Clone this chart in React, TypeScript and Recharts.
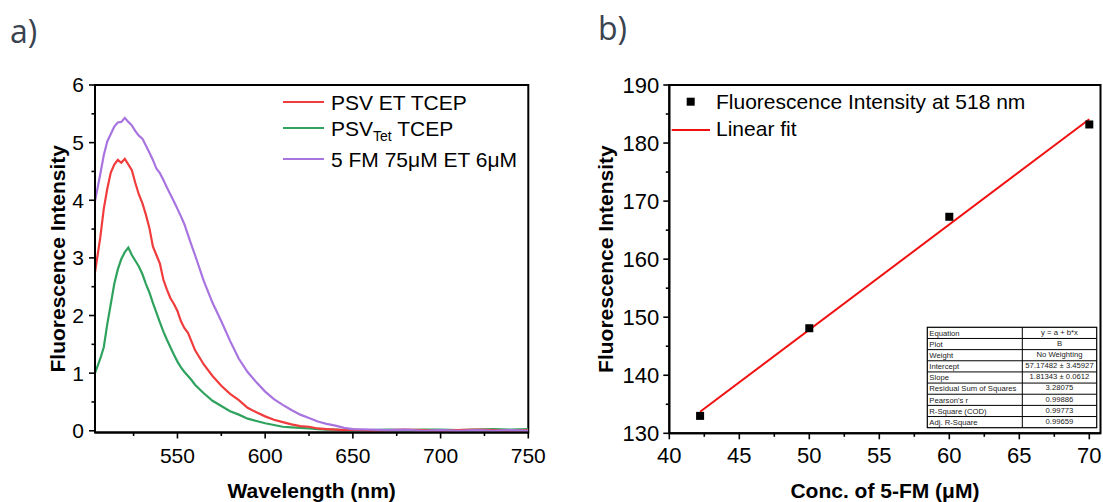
import React from 'react';
import { LineChart, Line, XAxis, YAxis, ReferenceArea, ScatterChart, Scatter } from 'recharts';

// ---------- Panel a) data ----------
const wavelengths = [
  503, 506, 508, 510, 512, 514, 516, 518, 520, 522, 524, 526, 528, 530, 532, 534, 536, 538, 540, 542, 544, 546, 548, 550, 552, 554, 556, 558, 560,
  565, 570, 575, 580, 585, 590, 595, 600, 605, 610, 615, 620, 625, 630, 635, 640, 645, 650,
  660, 670, 680, 690, 700, 710, 720, 730, 740, 750,
];
const psvEtTcep = [
  2.75, 3.35, 3.85, 4.2, 4.48, 4.62, 4.7, 4.65, 4.72, 4.62, 4.52, 4.3, 4.1, 3.95, 3.75, 3.52, 3.2, 3.05, 2.9, 2.62, 2.45, 2.3, 2.2, 2.08, 1.9, 1.78, 1.7, 1.55, 1.4,
  1.15, 0.95, 0.78, 0.64, 0.53, 0.4, 0.32, 0.25, 0.19, 0.15, 0.11, 0.08, 0.07, 0.04, 0.03, 0.02, 0.01, 0.02,
  0.0, 0.01, 0.02, 0.01, 0.0, 0.01, 0.02, 0.01, 0.0, 0.01,
];
const psvTetTcep = [
  1.0, 1.25, 1.45, 1.85, 2.2, 2.55, 2.8, 2.98, 3.1, 3.18, 3.05, 2.95, 2.85, 2.72, 2.55, 2.4, 2.22, 2.05, 1.88, 1.72, 1.58, 1.45, 1.32, 1.2, 1.1, 1.02, 0.95, 0.88, 0.8,
  0.65, 0.52, 0.43, 0.34, 0.28, 0.21, 0.17, 0.13, 0.1, 0.07, 0.06, 0.05, 0.04, 0.03, 0.02, 0.02, 0.01, 0.01,
  0.01, 0.02, 0.01, 0.02, 0.02, 0.01, 0.02, 0.03, 0.02, 0.03,
];
const fm75Et6 = [
  3.98, 4.45, 4.78, 5.02, 5.15, 5.28, 5.35, 5.36, 5.43, 5.36, 5.3, 5.2, 5.12, 5.07, 4.95, 4.83, 4.7, 4.55, 4.47, 4.35, 4.22, 4.1, 3.98, 3.85, 3.72, 3.58, 3.4, 3.22, 3.05,
  2.6, 2.22, 1.9, 1.56, 1.25, 1.02, 0.84, 0.68, 0.55, 0.45, 0.36, 0.28, 0.22, 0.16, 0.12, 0.09, 0.05, 0.03,
  0.02, 0.01, 0.02, 0.0, 0.01, 0.0, 0.01, 0.0, 0.01, 0.0,
];
const leftXTicks = [525, 550, 575, 600, 625, 650, 675, 700, 725, 750];
const leftXMajor = [550, 600, 650, 700, 750];
const leftYTicks = [0, 0.5, 1, 1.5, 2, 2.5, 3, 3.5, 4, 4.5, 5, 5.5, 6];
const leftYMajor = [0, 1, 2, 3, 4, 5, 6];
const leftSeriesNames = ['PSV ET TCEP', 'PSVTet TCEP', '5 FM 75μM ET 6μM'];
const leftColors = ['#f03c3c', '#2fa35e', '#a874e0'];

// ---------- Panel b) data ----------
const concentrations = [42.2, 50, 60, 70];
const intensities518 = [133.0, 148.1, 167.3, 183.2];
const fitX = [42.2, 70];
const fitY = [133.7, 184.1];
const rightXTicks = [40, 42.5, 45, 47.5, 50, 52.5, 55, 57.5, 60, 62.5, 65, 67.5, 70];
const rightXMajor = [40, 45, 50, 55, 60, 65, 70];
const rightYTicks = [130, 135, 140, 145, 150, 155, 160, 165, 170, 175, 180, 185, 190];
const rightYMajor = [130, 140, 150, 160, 170, 180, 190];
const tableLabels = ['Equation', 'Plot', 'Weight', 'Intercept', 'Slope', 'Residual Sum of Squares', "Pearson's r", 'R-Square (COD)', 'Adj. R-Square'];
const tableValues = ['y = a + b*x', 'B', 'No Weighting', '57.17482 ± 3.45927', '1.81343 ± 0.0612', '3.28075', '0.99886', '0.99773', '0.99659'];

const FONT = '"Liberation Sans", Arial, Helvetica, sans-serif';

const spectraData = wavelengths.map((wl, i) => ({
  wl,
  red: psvEtTcep[i],
  green: psvTetTcep[i],
  purple: fm75Et6[i],
}));
const pointData = concentrations.map((x, i) => ({ x, y: intensities518[i] }));
const fitData = fitX.map((x, i) => ({ x, y: fitY[i] }));

// ----- tick renderers -----
const makeXTick = (majors: number[], ts: number, tm: number, fs: number) => (props: any) => {
  const { x, y, payload } = props;
  const v = payload.value;
  const major = majors.includes(v);
  const axisY = y - ts - tm;
  return (
    <g>
      <line x1={x} x2={x} y1={axisY} y2={axisY + (major ? ts : 3.5)} stroke="#000" strokeWidth={1.6} />
      {major && (
        <text x={x} y={y} dy="0.71em" textAnchor="middle" fontSize={fs} fontFamily={FONT} fill="#000">
          {v}
        </text>
      )}
    </g>
  );
};
const makeYTick = (majors: number[], ts: number, tm: number, fs: number) => (props: any) => {
  const { x, y, payload } = props;
  const v = payload.value;
  const major = majors.includes(v);
  const axisX = x + ts + tm;
  return (
    <g>
      <line x1={axisX} x2={axisX - (major ? ts : 3.5)} y1={y} y2={y} stroke="#000" strokeWidth={1.6} />
      {major && (
        <text x={x} y={y} dy="0.355em" textAnchor="end" fontSize={fs} fontFamily={FONT} fill="#000">
          {v}
        </text>
      )}
    </g>
  );
};

const LeftXTick = makeXTick(leftXMajor, 6, 9.5, 21);
const LeftYTick = makeYTick(leftYMajor, 6, 5, 21);
const RightXTick = makeXTick(rightXMajor, 6, 7.8, 22);
const RightYTick = makeYTick(rightYMajor, 6, 4, 22);

const SquareShape = (props: any) => {
  const { cx, cy } = props;
  return <rect x={cx - 4} y={cy - 4} width={8} height={8} fill="#000" />;
};
const NoShape = () => <g />;

export default function App() {
  const rowH = 100.4 / tableLabels.length;
  const tX = 387.3;
  const tY = 327.3;
  const tW = 169.4;
  const tDiv = 482.3;
  return (
    <div style={{ position: 'absolute', left: 0, top: 0, width: 1103, height: 502, background: '#fff', overflow: 'hidden' }}>
      {/* Panel a */}
      <div style={{ position: 'absolute', left: 0, top: 0 }}>
        <LineChart width={560} height={502} data={spectraData} margin={{ top: 85, right: 31.7, bottom: 0, left: 21 }}>
          <XAxis
            dataKey="wl"
            type="number"
            domain={[503, 750]}
            allowDataOverflow
            ticks={leftXTicks}
            interval={0}
            height={69.5}
            tickSize={6}
            tickMargin={9.5}
            tickLine={false}
            tick={LeftXTick}
            axisLine={{ stroke: '#000', strokeWidth: 2 }}
            label={{ value: 'Wavelength (nm)', position: 'insideBottom', offset: 4.5, fontSize: 21, fontWeight: 'bold', fontFamily: FONT, fill: '#000' }}
          />
          <YAxis
            type="number"
            domain={[-0.03, 6]}
            allowDataOverflow
            ticks={leftYTicks}
            interval={0}
            width={74}
            tickSize={6}
            tickMargin={5}
            tickLine={false}
            tick={LeftYTick}
            axisLine={{ stroke: '#000', strokeWidth: 2 }}
            label={{ value: 'Fluorescence Intensity', angle: -90, position: 'center', fontSize: 21, fontWeight: 'bold', fontFamily: FONT, fill: '#000' }}
          />
          <ReferenceArea x1={503} x2={750} y1={-0.03} y2={6} fill="none" stroke="#000" strokeWidth={2} />
          <Line dataKey="green" stroke={leftColors[1]} strokeWidth={2.2} dot={false} isAnimationActive={false} />
          <Line dataKey="red" stroke={leftColors[0]} strokeWidth={2.2} dot={false} isAnimationActive={false} />
          <Line dataKey="purple" stroke={leftColors[2]} strokeWidth={2.2} dot={false} isAnimationActive={false} />
          <g fontFamily={FONT} fontSize={21} fill="#000">
            <line x1={283} x2={324} y1={102} y2={102} stroke={leftColors[0]} strokeWidth={2.2} />
            <text x={331} y={110}>{leftSeriesNames[0]}</text>
            <line x1={283} x2={324} y1={128} y2={128} stroke={leftColors[1]} strokeWidth={2.2} />
            <text x={331} y={136}>
              PSV
              <tspan fontSize={14} dy={5}>Tet</tspan>
              <tspan dy={-5}> TCEP</tspan>
            </text>
            <line x1={283} x2={324} y1={159} y2={159} stroke={leftColors[2]} strokeWidth={2.2} />
            <text x={331} y={167}>{leftSeriesNames[2]}</text>
          </g>
        </LineChart>
      </div>

      {/* Panel b */}
      <div style={{ position: 'absolute', left: 540, top: 0 }}>
        <ScatterChart width={563} height={502} margin={{ top: 85, right: 2.5, bottom: 0, left: 2.7 }}>
          <XAxis
            dataKey="x"
            type="number"
            domain={[40, 70.8]}
            allowDataOverflow
            ticks={rightXTicks}
            interval={0}
            height={68.7}
            tickSize={6}
            tickMargin={7.8}
            tickLine={false}
            tick={RightXTick}
            axisLine={{ stroke: '#000', strokeWidth: 2 }}
            label={{ value: 'Conc. of 5-FM (μM)', position: 'insideBottom', offset: 4.5, fontSize: 21, fontWeight: 'bold', fontFamily: FONT, fill: '#000' }}
          />
          <YAxis
            dataKey="y"
            type="number"
            domain={[130, 190]}
            allowDataOverflow
            ticks={rightYTicks}
            interval={0}
            width={126.6}
            tickSize={6}
            tickMargin={4}
            tickLine={false}
            tick={RightYTick}
            axisLine={{ stroke: '#000', strokeWidth: 2 }}
            label={{ value: 'Fluorescence Intensity', angle: -90, position: 'center', fontSize: 21, fontWeight: 'bold', fontFamily: FONT, fill: '#000' }}
          />
          <ReferenceArea x1={40} x2={70.8} y1={130} y2={190} fill="none" stroke="#000" strokeWidth={2} />
          <Scatter data={fitData} line={{ stroke: '#f01010', strokeWidth: 2 }} shape={NoShape} isAnimationActive={false} />
          <Scatter data={pointData} shape={SquareShape} isAnimationActive={false} />
          <g fontFamily={FONT} fontSize={21} fill="#000">
            <rect x={146.7} y={97.7} width={8} height={8} fill="#000" />
            <text x={176} y={109}>Fluorescence Intensity at 518 nm</text>
            <line x1={131.7} x2={170} y1={130} y2={130} stroke="#f01010" strokeWidth={2} />
            <text x={176} y={136}>Linear fit</text>
          </g>
          <g fontFamily={FONT} fontSize={7.7} fill="#222">
            <rect x={tX} y={tY} width={tW} height={rowH * tableLabels.length} fill="#fff" stroke="#000" strokeWidth={1.2} />
            <line x1={tDiv} x2={tDiv} y1={tY} y2={tY + rowH * tableLabels.length} stroke="#000" strokeWidth={1} />
            {tableLabels.map((lab, i) => (
              <g key={lab}>
                {i > 0 && <line x1={tX} x2={tX + tW} y1={tY + i * rowH} y2={tY + i * rowH} stroke="#000" strokeWidth={1} />}
                <text x={tX + 2} y={tY + i * rowH + rowH / 2} dy="0.36em">{lab}</text>
                <text x={(tDiv + tX + tW) / 2} y={tY + i * rowH + rowH / 2 - 1} dy="0.36em" textAnchor="middle">{tableValues[i]}</text>
              </g>
            ))}
          </g>
        </ScatterChart>
      </div>

      {/* panel letters */}
      <svg width={1103} height={502} style={{ position: 'absolute', left: 0, top: 0, pointerEvents: 'none' }}>
        <text x={10} y={42.5} fontFamily='"Open Sans", "Noto Sans", sans-serif' fontSize={32} fill="#3a4350">a)</text>
        <text x={598} y={40} fontFamily='"Open Sans", "Noto Sans", sans-serif' fontSize={32} fill="#3a4350">b)</text>
      </svg>
    </div>
  );
}
